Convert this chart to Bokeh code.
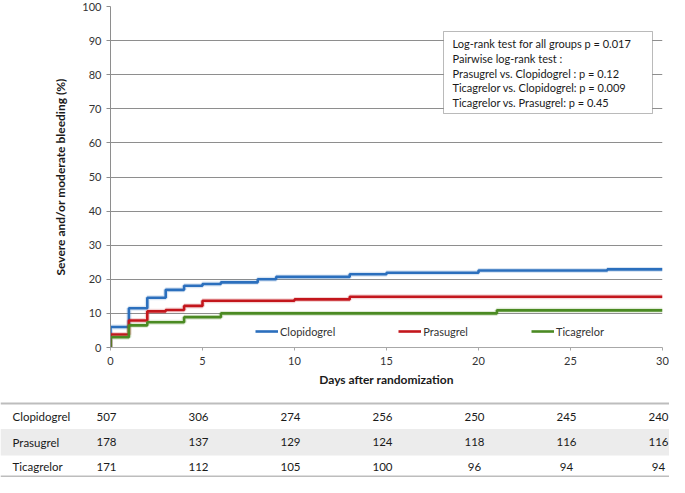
from bokeh.plotting import figure
from bokeh.models import Range1d, FixedTicker, Legend, LegendItem, BoxAnnotation, Label, ColumnDataSource
from bokeh.embed import file_html
from bokeh.resources import INLINE
from bokeh.core.properties import value

# ---------------- data ----------------
groups = ["Clopidogrel", "Prasugrel", "Ticagrelor"]
colors = ["#2b6fbd", "#c3161c", "#4b8a23"]

clop_days = [0, 0, 1, 2, 3, 4, 5, 6, 8, 9, 13, 15, 20, 27, 30]
clop_pct = [0, 6.0, 11.5, 14.6, 16.9, 18.1, 18.6, 19.1, 20.0, 20.7, 21.5, 21.9, 22.6, 22.9, 22.9]
pras_days = [0, 0, 1, 2, 3, 4, 5, 10, 13, 30]
pras_pct = [0, 3.8, 7.9, 10.6, 11.0, 12.2, 13.7, 14.1, 14.9, 14.9]
tica_days = [0, 0, 1, 2, 4, 6, 21, 30]
tica_pct = [0, 3.0, 6.5, 7.4, 8.9, 10.0, 10.9, 10.9]

risk_days = [0, 5, 10, 15, 20, 25, 30]
risk_clop = [507, 306, 274, 256, 250, 245, 240]
risk_pras = [178, 137, 129, 124, 118, 116, 116]
risk_tica = [171, 112, 105, 100, 96, 94, 94]

x_ticks = [0, 5, 10, 15, 20, 25, 30]
y_ticks = [0, 10, 20, 30, 40, 50, 60, 70, 80, 90, 100]

stats_lines = [
    "Log-rank test for all groups p = 0.017",
    "Pairwise log-rank test :",
    "Prasugrel vs. Clopidogrel : p = 0.12",
    "Ticagrelor vs. Clopidogrel: p = 0.009",
    "Ticagrelor vs. Prasugrel: p = 0.45",
]

x_label = "Days after randomization"
y_label = "Severe and/or moderate bleeding (%)"

# ---------------- layout constants ----------------
FONT = "Lato"
W = 669
H1 = 389
H2 = 88
BL, BR, BT, BB = 110, 7, 6, 42
frame_w = W - BL - BR
frame_h = H1 - BT - BB
X0, X1 = 0, 30
Y0, Y1 = 0, 100
ppd = frame_w / (X1 - X0)
ppy = frame_h / (Y1 - Y0)

def px_to_x(px):  # picture px -> days
    return X0 + (px - BL) / ppd

def py_to_y(py):  # picture py -> percent
    return Y0 + (BT + frame_h - py) / ppy

p = figure(width=W, height=H1, output_backend="svg", toolbar_location=None,
           x_range=Range1d(X0, X1), y_range=Range1d(Y0, Y1),
           min_border_left=BL, min_border_right=BR, min_border_top=BT, min_border_bottom=BB)
p.outline_line_color = None
p.background_fill_color = "white"
p.border_fill_color = "white"

p.xgrid.visible = False
p.ygrid.grid_line_color = "#8e8e8e"
p.ygrid.grid_line_width = 1
p.yaxis.ticker = FixedTicker(ticks=y_ticks)
p.xaxis.ticker = FixedTicker(ticks=x_ticks)

for ax in (p.xaxis[0], p.yaxis[0]):
    ax.minor_tick_line_color = None
    ax.major_tick_in = 0
    ax.major_label_text_font = FONT
    ax.major_label_text_font_size = "11px"
    ax.major_label_text_color = "#333333"
    ax.axis_label_text_font = FONT
    ax.axis_label_text_font_size = "12px"
    ax.axis_label_text_font_style = "bold"
    ax.axis_label_text_color = "#1a1a1a"

p.yaxis.axis_line_color = "#8e8e8e"
p.yaxis.major_tick_line_color = "#8e8e8e"
p.yaxis.major_tick_out = 4
p.yaxis.major_label_standoff = 5
p.yaxis.axis_label = y_label
p.yaxis.axis_label_standoff = 11

p.xaxis.axis_line_color = "#a8a8a8"
p.xaxis.major_tick_line_color = "#a8a8a8"
p.xaxis.major_tick_out = 3
p.xaxis.major_label_standoff = 6
p.xaxis.axis_label = x_label
p.xaxis.axis_label_standoff = 4

series = [(clop_days, clop_pct), (pras_days, pras_pct), (tica_days, tica_pct)]
items = []
for name, col, (d, v) in zip(groups, colors, series):
    p.step(d, v, mode="after", line_width=5, line_color=col, line_alpha=0.18)
    r = p.step(d, v, mode="after", line_width=2.6, line_color=col)
    items.append(LegendItem(label=name, renderers=[r]))

legend = Legend(items=items, orientation="horizontal", location=(145, 8),
                padding=0, margin=0, spacing=63, glyph_width=23, glyph_height=16,
                label_height=16, label_standoff=2, label_text_font=FONT,
                label_text_font_size="11px", label_text_color="#333333",
                background_fill_alpha=0, border_line_alpha=0)
p.add_layout(legend, "center")

box = BoxAnnotation(left=px_to_x(443), right=px_to_x(652), top=py_to_y(31), bottom=py_to_y(113),
                    fill_color="white", fill_alpha=1, line_color="#1a1a1a", line_width=1)
p.add_layout(box)
for i, line in enumerate(stats_lines):
    p.add_layout(Label(x=px_to_x(452), y=py_to_y(43 + i * 14.8), text=line,
                       text_font=FONT, text_font_size="11px", text_color="#1a1a1a",
                       text_baseline="middle", text_align="left"))

# ---------------- number-at-risk table ----------------
tx0 = px_to_x(0)
tx1 = px_to_x(W)
t = figure(width=W, height=H2, output_backend="svg", toolbar_location=None,
           x_range=Range1d(tx0, tx1), y_range=Range1d(H2, 0),
           min_border=0, min_border_left=0, min_border_right=0, min_border_top=0, min_border_bottom=0,
           x_axis_location=None, y_axis_location=None)
t.outline_line_color = None
t.grid.visible = False
t.background_fill_color = "white"
t.border_fill_color = "white"

t.quad(left=[tx0], right=[tx1], top=[39.5], bottom=[66], fill_color="#ececec", line_color=None)
t.segment(x0=[tx0, tx0], x1=[tx1, tx1], y0=[14, 87], y1=[14, 87], line_color="#bdbdbd", line_width=2)

row_y = [27, 52.5, 77]
for name, ry, counts in zip(groups, row_y, [risk_clop, risk_pras, risk_tica]):
    t.text(x=[px_to_x(12)], y=[ry], text=[name], text_font=value(FONT), text_font_size="11.5px",
           text_color="#1a1a1a", text_baseline="middle", text_align="left")
    src = ColumnDataSource(dict(x=risk_days, y=[ry] * len(risk_days), txt=[str(c) for c in counts]))
    t.text(x="x", y="y", text="txt", source=src, text_font=value(FONT), text_font_size="11.5px",
           text_color="#1a1a1a", text_baseline="middle", text_align="center", x_offset=-4)

open("out.html", "w").write(file_html([p, t], INLINE))
